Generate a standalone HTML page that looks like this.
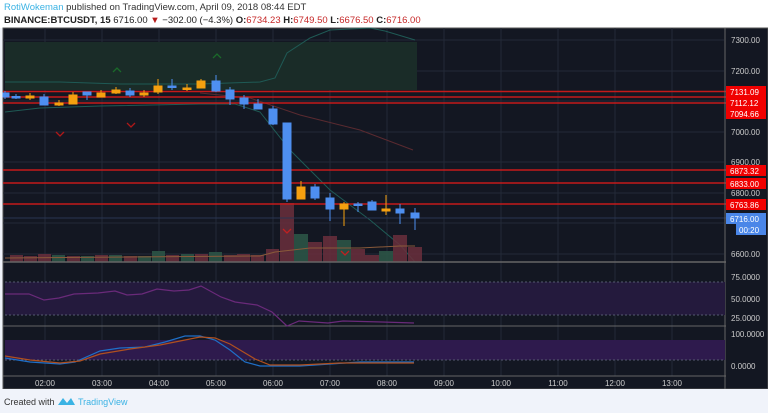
<!DOCTYPE html>
<html><head><meta charset="utf-8"><style>
body{margin:0;width:768px;height:413px;overflow:hidden;background:#f0f3fa;font-family:"Liberation Sans",sans-serif}
svg{display:block}
</style></head><body>
<svg width="768" height="413" xmlns="http://www.w3.org/2000/svg" font-family="Liberation Sans, sans-serif">
<rect x="0" y="0" width="768" height="28" fill="#fff"/>
<text x="4" y="10" font-size="9.5" fill="#333"><tspan fill="#3bb3e4">RotiWokeman</tspan> published on TradingView.com, April 09, 2018 08:44 EDT</text>
<text x="4" y="23" font-size="9.5" fill="#222"><tspan font-weight="bold">BINANCE:BTCUSDT, 15</tspan> 6716.00 <tspan fill="#b71c1c">▼</tspan> −302.00 (−4.3%) <tspan font-weight="bold">O:</tspan><tspan fill="#c62828">6734.23</tspan> <tspan font-weight="bold">H:</tspan><tspan fill="#c62828">6749.50</tspan> <tspan font-weight="bold">L:</tspan><tspan fill="#c62828">6676.50</tspan> <tspan font-weight="bold">C:</tspan><tspan fill="#c62828">6716.00</tspan></text>
<rect x="3" y="28" width="765" height="361" fill="#131722"/>
<rect x="3" y="28" width="765" height="361" fill="none" stroke="#555" stroke-width="1"/>
<!-- grid -->
<g stroke="#232a38" stroke-width="1">
<line x1="45" y1="28" x2="45" y2="376"/><line x1="102" y1="28" x2="102" y2="376"/><line x1="159" y1="28" x2="159" y2="376"/><line x1="216" y1="28" x2="216" y2="376"/><line x1="273" y1="28" x2="273" y2="376"/><line x1="330" y1="28" x2="330" y2="376"/><line x1="387" y1="28" x2="387" y2="376"/><line x1="444" y1="28" x2="444" y2="376"/><line x1="501" y1="28" x2="501" y2="376"/><line x1="558" y1="28" x2="558" y2="376"/><line x1="615" y1="28" x2="615" y2="376"/><line x1="672" y1="28" x2="672" y2="376"/>
<line x1="3" y1="40" x2="724" y2="40"/><line x1="3" y1="71" x2="724" y2="71"/><line x1="3" y1="101" x2="724" y2="101"/><line x1="3" y1="132" x2="724" y2="132"/><line x1="3" y1="162" x2="724" y2="162"/><line x1="3" y1="193" x2="724" y2="193"/><line x1="3" y1="223" x2="724" y2="223"/><line x1="3" y1="254" x2="724" y2="254"/>
</g>
<rect x="5" y="42" width="412" height="48" fill="#1a2c28"/>
<path d="M5,82 L60,82 L120,84 L200,84 L260,82 L275,78 L287,53 L310,38 L330,30 L370,28 L385,31 L415,40" fill="none" stroke="#1f5a55" stroke-width="1"/>
<path d="M5,112 L40,108 L100,106 L200,104 L235,104 L260,112 L290,150 L330,190 L370,220 L400,245 L415,262" fill="none" stroke="#1f5a55" stroke-width="1"/>
<path d="M200,93 L250,98 L300,115 L360,130 L413,150" fill="none" stroke="#5a2a30" stroke-width="1"/>
<!-- volume -->
<g fill="#6b2f3c" opacity="0.85">
<rect x="10" y="255" width="13" height="7"/><rect x="24" y="256" width="13" height="6"/><rect x="38" y="254" width="13" height="8"/><rect x="67" y="256" width="13" height="6"/><rect x="95" y="255" width="13" height="7"/><rect x="124" y="256" width="13" height="6"/><rect x="166" y="255" width="13" height="7"/><rect x="195" y="254" width="13" height="8"/><rect x="224" y="255" width="13" height="7"/><rect x="237" y="254" width="13" height="8"/><rect x="251" y="255" width="13" height="7"/><rect x="266" y="249" width="13" height="13"/><rect x="280" y="203" width="14" height="59"/><rect x="308" y="242" width="14" height="20"/><rect x="323" y="236" width="14" height="26"/><rect x="351" y="249" width="14" height="13"/><rect x="365" y="255" width="14" height="7"/><rect x="393" y="235" width="14" height="27"/><rect x="408" y="247" width="14" height="15"/>
</g>
<g fill="#2c5446" opacity="0.9">
<rect x="52" y="255" width="13" height="7"/><rect x="81" y="256" width="13" height="6"/><rect x="109" y="255" width="13" height="7"/><rect x="138" y="256" width="13" height="6"/><rect x="152" y="251" width="13" height="11"/><rect x="181" y="254" width="13" height="8"/><rect x="209" y="252" width="13" height="10"/><rect x="294" y="234" width="14" height="28"/><rect x="337" y="240" width="14" height="22"/><rect x="379" y="251" width="14" height="11"/>
</g>
<path d="M5,258 L260,256 L275,252 L310,248 L360,248 L400,246 L415,246" fill="none" stroke="#8a5a3a" stroke-width="1"/>
<!-- red lines -->
<g stroke="#c41a1a" stroke-width="1.5">
<line x1="3" y1="91.5" x2="726" y2="91.5"/><line x1="3" y1="97" x2="726" y2="97"/><line x1="3" y1="103" x2="726" y2="103"/><line x1="3" y1="170" x2="726" y2="170"/><line x1="3" y1="183" x2="726" y2="183"/><line x1="3" y1="204" x2="726" y2="204"/>
</g>
<line x1="3" y1="218" x2="726" y2="218" stroke="#2a3552" stroke-width="1"/>
<!-- arrows -->
<g fill="none" stroke-width="1.3">
<path d="M56,132 L60,136 L64,132" stroke="#b01818"/><path d="M127,123 L131,127 L135,123" stroke="#b01818"/>
<path d="M113,72 L117,68 L121,72" stroke="#1a6a2a"/><path d="M213,58 L217,54 L221,58" stroke="#1a6a2a"/>
<path d="M283,229 L287,233 L291,229" stroke="#c02020"/><path d="M341,251 L345,255 L349,251" stroke="#c02020"/>
</g>
<!-- candles -->
<g stroke-width="1">
<g stroke="#4e8ff0" fill="#4e8ff0">
<line x1="5" y1="91" x2="5" y2="99"/><rect x="3" y="93" width="6" height="4"/>
<line x1="16" y1="94" x2="16" y2="99"/><rect x="12" y="96.5" width="8" height="1.5"/>
<line x1="44" y1="94" x2="44" y2="105"/><rect x="40" y="97" width="8" height="8"/>
<line x1="87" y1="92" x2="87" y2="100"/><rect x="83" y="92" width="8" height="3"/>
<line x1="130" y1="88" x2="130" y2="97"/><rect x="126" y="91" width="8" height="4"/>
<line x1="172" y1="79" x2="172" y2="90"/><rect x="168" y="86" width="8" height="1.5"/>
<line x1="216" y1="75" x2="216" y2="92"/><rect x="212" y="81" width="8" height="10"/>
<line x1="230" y1="87" x2="230" y2="105"/><rect x="226" y="90" width="8" height="9"/>
<line x1="244" y1="95" x2="244" y2="109"/><rect x="240" y="98" width="8" height="6"/>
<line x1="258" y1="99" x2="258" y2="109"/><rect x="254" y="104" width="8" height="5"/>
<line x1="273" y1="106" x2="273" y2="125"/><rect x="269" y="109" width="8" height="15"/>
<line x1="287" y1="123" x2="287" y2="202"/><rect x="283" y="123" width="8" height="76"/>
<line x1="315" y1="184" x2="315" y2="200"/><rect x="311" y="187" width="8" height="11"/>
<line x1="330" y1="193" x2="330" y2="221"/><rect x="326" y="198" width="8" height="11"/>
<line x1="358" y1="202" x2="358" y2="212"/><rect x="354" y="204" width="8" height="1.5"/>
<line x1="372" y1="200" x2="372" y2="210"/><rect x="368" y="202" width="8" height="8"/>
<line x1="400" y1="204" x2="400" y2="224"/><rect x="396" y="209" width="8" height="4"/>
<line x1="415" y1="208" x2="415" y2="230"/><rect x="411" y="213" width="8" height="5"/>
</g>
<g stroke="#f5a00f" fill="#f5a00f">
<line x1="30" y1="93" x2="30" y2="100"/><rect x="26" y="96" width="8" height="2"/>
<line x1="59" y1="100" x2="59" y2="106"/><rect x="55" y="103" width="8" height="2"/>
<line x1="73" y1="92" x2="73" y2="104"/><rect x="69" y="95" width="8" height="9"/>
<line x1="101" y1="90" x2="101" y2="97"/><rect x="97" y="93" width="8" height="4"/>
<line x1="116" y1="87" x2="116" y2="94"/><rect x="112" y="90" width="8" height="3"/>
<line x1="144" y1="90" x2="144" y2="97"/><rect x="140" y="93" width="8" height="2"/>
<line x1="158" y1="79" x2="158" y2="94"/><rect x="154" y="86" width="8" height="6"/>
<line x1="187" y1="84" x2="187" y2="91"/><rect x="183" y="88" width="8" height="1.5"/>
<line x1="201" y1="79" x2="201" y2="88"/><rect x="197" y="81" width="8" height="7"/>
<line x1="301" y1="181" x2="301" y2="199"/><rect x="297" y="187" width="8" height="12"/>
<line x1="344" y1="202" x2="344" y2="226"/><rect x="340" y="204" width="8" height="5"/>
<line x1="386" y1="195" x2="386" y2="215"/><rect x="382" y="209" width="8" height="2"/>
</g>
</g>
<!-- pane separators -->
<line x1="3" y1="262" x2="726" y2="262" stroke="#666" stroke-width="1.5"/>
<line x1="3" y1="326" x2="726" y2="326" stroke="#666" stroke-width="1"/>
<line x1="3" y1="376" x2="726" y2="376" stroke="#666" stroke-width="1"/>
<line x1="725" y1="28" x2="725" y2="389" stroke="#666" stroke-width="1"/>
<!-- RSI -->
<rect x="5" y="282" width="720" height="33" fill="#241a3d"/>
<line x1="5" y1="282" x2="725" y2="282" stroke="#555a70" stroke-dasharray="2,2"/>
<line x1="5" y1="315" x2="725" y2="315" stroke="#555a70" stroke-dasharray="2,2"/>
<path d="M5,294 L29,294 L44,300 L59,298 L74,294 L98,293 L115,291 L127,295 L142,294 L157,289 L174,291 L189,290 L201,286 L221,297 L235,302 L257,305 L272,312 L287,326 L299,321 L328,323 L343,321 L382,322 L414,323" fill="none" stroke="#6a2a7a" stroke-width="1.2"/>
<!-- Stoch -->
<rect x="5" y="340" width="720" height="20" fill="#2e1a4d"/>
<line x1="5" y1="360" x2="725" y2="360" stroke="#555a70" stroke-dasharray="2,2"/>
<path d="M5,358 L30,362 L60,364 L75,362 L100,351 L120,348 L145,347 L165,342 L185,336 L200,336 L215,340 L230,350 L245,362 L260,366 L300,366 L330,364 L360,362 L414,362" fill="none" stroke="#1f6fc8" stroke-width="1.2"/>
<path d="M5,356 L30,360 L60,363 L80,361 L100,354 L130,349 L160,345 L200,337 L215,338 L230,344 L255,359 L270,365 L300,365 L340,363 L414,363" fill="none" stroke="#b0501f" stroke-width="1.2"/>
<!-- labels -->
<g font-size="8" fill="#ccc">
<text x="731" y="43">7300.00</text><text x="731" y="74">7200.00</text><text x="731" y="135">7000.00</text><text x="731" y="165">6900.00</text><text x="731" y="196">6800.00</text><text x="731" y="257">6600.00</text>
<text x="731" y="302">50.0000</text><text x="731" y="280">75.0000</text><text x="731" y="321">25.0000</text><text x="731" y="337">100.0000</text><text x="731" y="369">0.0000</text>
</g>
<g font-size="8" fill="#fff">
<rect x="726" y="86" width="40" height="11" fill="#f00000"/><text x="730" y="95">7131.09</text>
<rect x="726" y="97" width="40" height="11" fill="#f00000"/><text x="730" y="106">7112.12</text>
<rect x="726" y="108" width="40" height="11" fill="#f00000"/><text x="730" y="117">7094.66</text>
<rect x="726" y="165" width="40" height="11" fill="#f00000"/><text x="730" y="174">6873.32</text>
<rect x="726" y="178" width="40" height="11" fill="#f00000"/><text x="730" y="187">6833.00</text>
<rect x="726" y="199" width="40" height="11" fill="#f00000"/><text x="730" y="208">6763.86</text>
<rect x="726" y="213" width="40" height="11" fill="#4a86e8"/><text x="730" y="222">6716.00</text>
<rect x="736" y="224" width="30" height="11" fill="#4a86e8"/><text x="739" y="233">00:20</text>
</g>
<g font-size="8" fill="#ccc" text-anchor="middle">
<text x="45" y="386">02:00</text><text x="102" y="386">03:00</text><text x="159" y="386">04:00</text><text x="216" y="386">05:00</text><text x="273" y="386">06:00</text><text x="330" y="386">07:00</text><text x="387" y="386">08:00</text><text x="444" y="386">09:00</text><text x="501" y="386">10:00</text><text x="558" y="386">11:00</text><text x="615" y="386">12:00</text><text x="672" y="386">13:00</text>
</g>
<rect x="0" y="389" width="768" height="24" fill="#f0f3fa"/>
<text x="4" y="405" font-size="9" fill="#333">Created with</text>
<path d="M58,405 L63,398 L67,403 L71,398 L75,405 Z" fill="#3bb3e4"/>
<text x="78" y="405" font-size="9" fill="#3bb3e4">TradingView</text>
</svg>
</body></html>
